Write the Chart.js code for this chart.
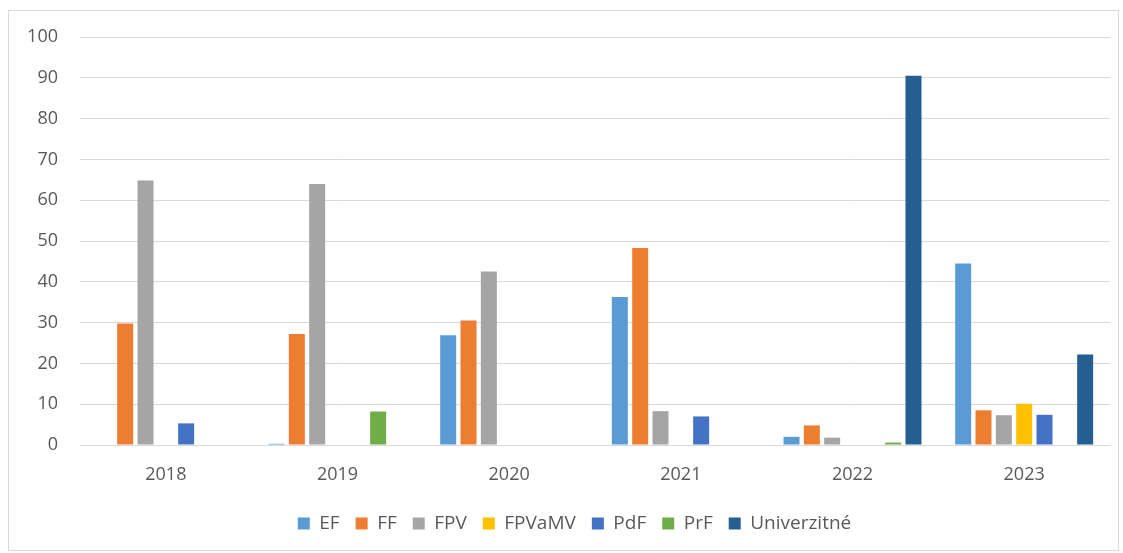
<!DOCTYPE html>
<html>
<head>
<meta charset="utf-8">
<script src="https://cdn.jsdelivr.net/npm/chart.js@4.4.1/dist/chart.umd.min.js"></script>
<style>
  html, body { margin: 0; padding: 0; background: #fff; width: 1123px; height: 553px; overflow: hidden; }
  #wrap { position: absolute; left: 8px; top: 10px; width: 1109px; height: 539px; border: 1px solid #d9d9d9; }
  canvas { display: block; }
</style>
</head>
<body>
<div id="wrap"><canvas id="c" width="1109" height="539"></canvas></div>
<script>
const categories = ['2018', '2019', '2020', '2021', '2022', '2023'];
const seriesNames = ['EF', 'FF', 'FPV', 'FPVaMV', 'PdF', 'PrF', 'Univerzitné'];
const EF = [0, 0.3, 26.9, 36.3, 2.0, 44.5];
const FF = [29.8, 27.2, 30.5, 48.3, 4.8, 8.5];
const FPV = [64.8, 64.0, 42.5, 8.3, 1.8, 7.3];
const FPVaMV = [0, 0, 0, 0, 0, 10.1];
const PdF = [5.3, 0, 0, 7.0, 0, 7.4];
const PrF = [0, 8.2, 0, 0, 0.6, 0];
const Univerzitne = [0, 0, 0, 0, 90.5, 22.2];
const yTicks = [0, 10, 20, 30, 40, 50, 60, 70, 80, 90, 100];

const colors = ['#5B9BD5', '#ED7D31', '#A5A5A5', '#FFC000', '#4472C4', '#70AD47', '#255E91'];
const values = [EF, FF, FPV, FPVaMV, PdF, PrF, Univerzitne];

const family = '"Open Sans", "DejaVu Sans", sans-serif';
const textColor = '#595959';

const legendShift = {
  id: 'legendShift',
  afterLayout(chart) {
    const l = chart.legend;
    if (l) { l.left += 15; l.right += 15; }
  }
};

new Chart(document.getElementById('c'), {
  type: 'bar',
  data: {
    labels: categories,
    datasets: seriesNames.map((n, i) => ({
      label: n,
      data: values[i],
      backgroundColor: colors[i],
      borderWidth: 0,
      categoryPercentage: 0.829,
      barPercentage: 0.787
    }))
  },
  options: {
    responsive: false,
    animation: false,
    layout: { padding: { left: 0, right: 8, top: 26, bottom: 7 } },
    plugins: {
      legend: {
        position: 'bottom',
        labels: {
          font: { family, size: 19 }, color: textColor,
          boxWidth: 12, boxHeight: 12, padding: 16
        }
      },
      tooltip: { enabled: false }
    },
    scales: {
      x: {
        grid: { display: false, drawTicks: false },
        border: { display: true, color: '#d9d9d9', width: 1 },
        ticks: { font: { family, size: 18 }, color: textColor, padding: 19 },
        afterFit: s => { s.height = 53; }
      },
      y: {
        min: 0, max: 100,
        afterBuildTicks: s => { s.ticks = yTicks.map(v => ({ value: v })); },
        grid: { color: '#d9d9d9', lineWidth: 1, drawTicks: true, tickLength: 22, tickColor: 'rgba(0,0,0,0)' },
        border: { display: false },
        ticks: { font: { family, size: 18 }, color: textColor, padding: 0 },
        afterFit: s => { s.width = 71; }
      }
    }
  },
  plugins: [legendShift]
});
</script>
</body>
</html>
